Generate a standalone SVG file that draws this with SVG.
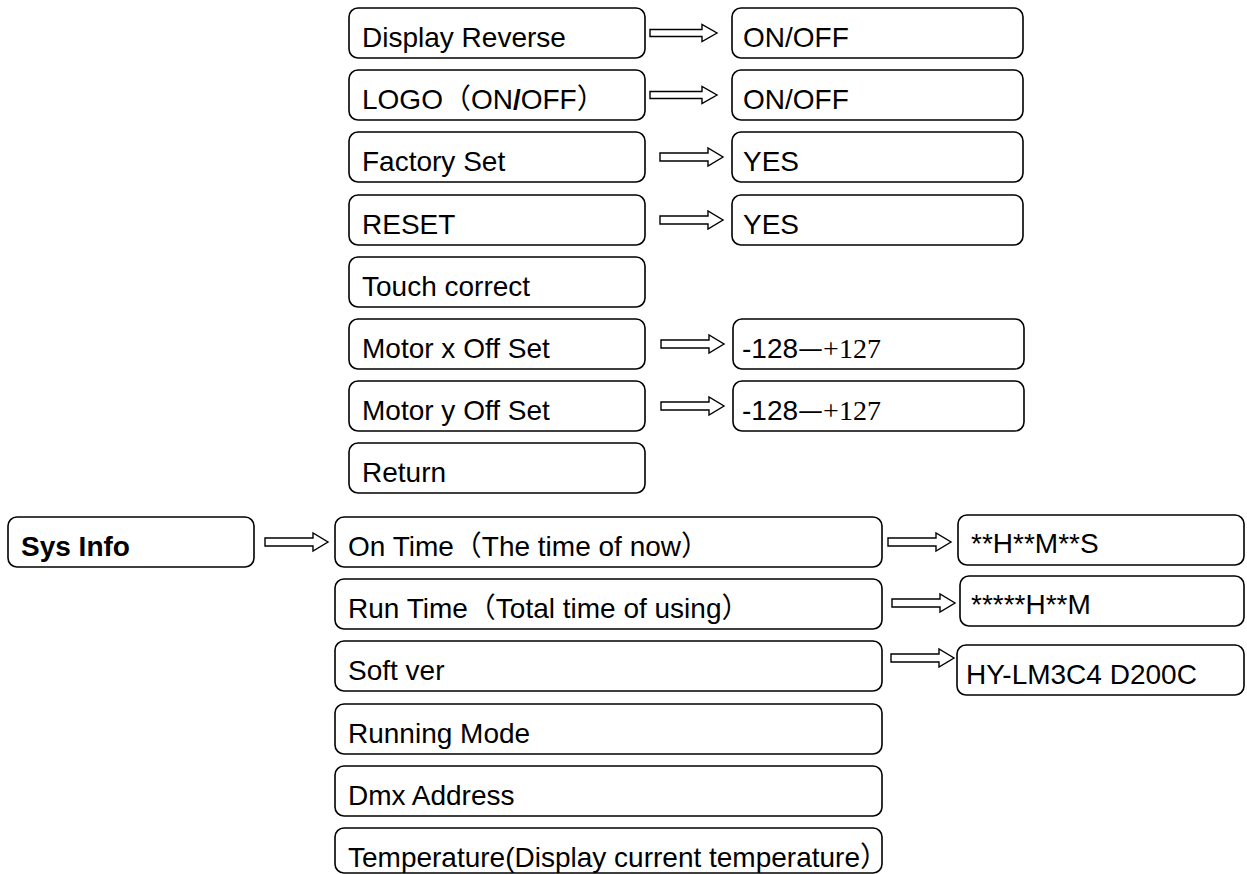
<svg xmlns="http://www.w3.org/2000/svg" width="1247" height="874" viewBox="0 0 1247 874">
<style>
.box{fill:#fff;stroke:#000;stroke-width:1.6}
.t{font-family:"Liberation Sans","Noto Sans CJK SC",sans-serif;font-size:28px;fill:#000}
.b{font-weight:bold}
.sf{font-family:"Liberation Serif","Noto Sans CJK SC",serif}
.cj{font-family:"Noto Sans CJK SC",sans-serif}
.arr{fill:#fff;stroke:#000;stroke-width:1.4;stroke-linejoin:miter}
</style>
<defs>
<polygon id="ar" class="arr" points="0,-3.5 52,-3.5 52,-8.5 67,0 52,8.5 52,3.5 0,3.5"/>
<polygon id="ar2" class="arr" points="0,-4 48,-4 48,-9 63,0 48,9 48,4 0,4"/>
</defs>
<rect width="1247" height="874" fill="#fff"/>

<g id="n-display-reverse"><rect class="box" x="349" y="8" width="296" height="50" rx="9"/><text class="t" x="362" y="47">Display Reverse</text></g>
<g id="n-display-reverse-val"><rect class="box" x="732" y="8" width="291" height="50" rx="9"/><text class="t" x="743" y="47">ON/OFF</text></g>

<g id="n-logo"><rect class="box" x="349" y="70" width="296" height="50" rx="9"/><text class="t" x="362" y="109">LOGO（ON<tspan class="b">/</tspan>OFF）</text></g>
<g id="n-logo-val"><rect class="box" x="732" y="70" width="291" height="50" rx="9"/><text class="t" x="743" y="109">ON/OFF</text></g>

<g id="n-factory"><rect class="box" x="349" y="132" width="296" height="50" rx="9"/><text class="t" x="362" y="171">Factory Set</text></g>
<g id="n-factory-val"><rect class="box" x="732" y="132" width="291" height="50" rx="9"/><text class="t" x="743" y="171">YES</text></g>

<g id="n-reset"><rect class="box" x="349" y="195" width="296" height="50" rx="9"/><text class="t" x="362" y="234">RESET</text></g>
<g id="n-reset-val"><rect class="box" x="732" y="195" width="291" height="50" rx="9"/><text class="t" x="743" y="234">YES</text></g>

<g id="n-touch"><rect class="box" x="349" y="257" width="296" height="50" rx="9"/><text class="t" x="362" y="296">Touch correct</text></g>

<g id="n-motor-x"><rect class="box" x="349" y="319" width="296" height="50" rx="9"/><text class="t" x="362" y="358">Motor x Off Set</text></g>
<g id="n-motor-x-val"><rect class="box" x="733" y="319" width="291" height="50" rx="9"/><text class="t" x="742" y="358">-128<tspan class="cj">—</tspan><tspan class="sf">+127</tspan></text></g>

<g id="n-motor-y"><rect class="box" x="349" y="381" width="296" height="50" rx="9"/><text class="t" x="362" y="420">Motor y Off Set</text></g>
<g id="n-motor-y-val"><rect class="box" x="733" y="381" width="291" height="50" rx="9"/><text class="t" x="742" y="420">-128<tspan class="cj">—</tspan><tspan class="sf">+127</tspan></text></g>

<g id="n-return"><rect class="box" x="349" y="443" width="296" height="50" rx="9"/><text class="t" x="362" y="482">Return</text></g>

<g id="n-sysinfo"><rect class="box" x="8" y="517" width="246" height="50" rx="9"/><text class="t b" x="21" y="556">Sys Info</text></g>

<g id="n-ontime"><rect class="box" x="335" y="517" width="547" height="50" rx="9"/><text class="t" x="348" y="556">On Time（The time of now）</text></g>
<g id="n-ontime-val"><rect class="box" x="958" y="515" width="286" height="50" rx="9"/><text class="t" x="971" y="553">**H**M**S</text></g>

<g id="n-runtime"><rect class="box" x="335" y="579" width="547" height="50" rx="9"/><text class="t" x="348" y="618">Run Time（Total time of using）</text></g>
<g id="n-runtime-val"><rect class="box" x="960" y="576" width="284" height="50" rx="9"/><text class="t" x="971" y="614">*****H**M</text></g>

<g id="n-softver"><rect class="box" x="335" y="641" width="547" height="50" rx="9"/><text class="t" x="348" y="680">Soft ver</text></g>
<g id="n-softver-val"><rect class="box" x="957" y="645" width="287" height="50" rx="9"/><text class="t" x="966" y="684">HY-LM3C4 D200C</text></g>

<g id="n-running-mode"><rect class="box" x="335" y="704" width="547" height="50" rx="9"/><text class="t" x="348" y="743">Running Mode</text></g>

<g id="n-dmx"><rect class="box" x="335" y="766" width="547" height="50" rx="9"/><text class="t" x="348" y="805">Dmx Address</text></g>

<g id="n-temperature"><rect class="box" x="335" y="828" width="547" height="45" rx="9"/><text class="t" x="348" y="867">Temperature(Display current temperature）</text></g>

<g id="connectors">
<use href="#ar" x="650" y="33"/>
<use href="#ar" x="650" y="95"/>
<use href="#ar2" x="660" y="157"/>
<use href="#ar2" x="660" y="220"/>
<use href="#ar2" x="661" y="344"/>
<use href="#ar2" x="661" y="406"/>
<use href="#ar2" x="265" y="542"/>
<use href="#ar2" x="888" y="542"/>
<use href="#ar2" x="892" y="603"/>
<use href="#ar2" x="891" y="658"/>
</g>
</svg>
